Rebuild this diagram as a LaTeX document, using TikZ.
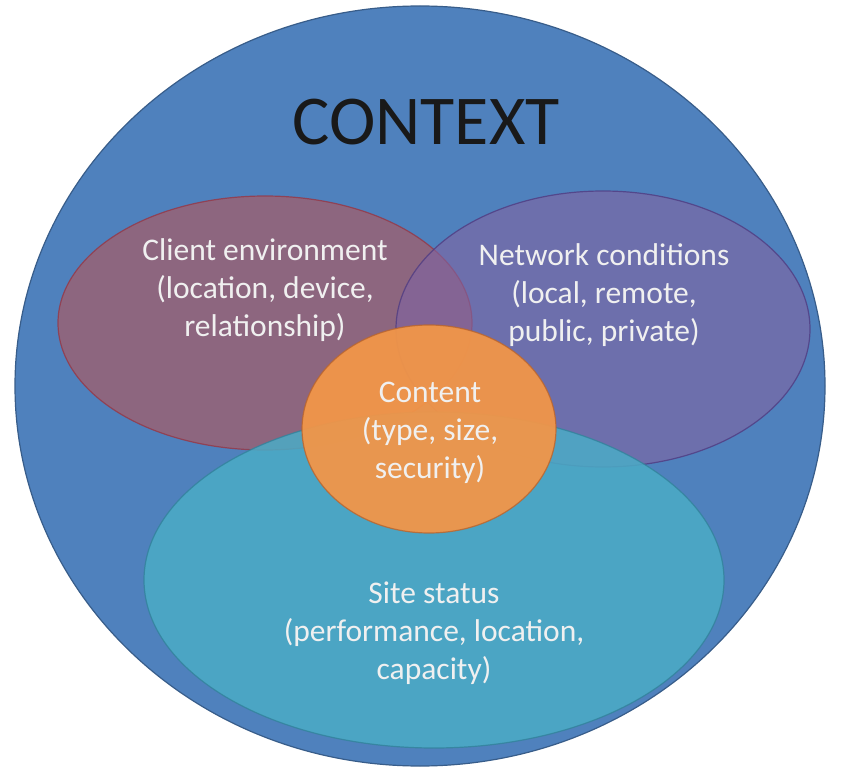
\documentclass[tikz,border=0pt]{standalone}
\usepackage{fontspec}
\setmainfont{Carlito}
\definecolor{bigblue}{RGB}{79,129,189}
\definecolor{bigborder}{RGB}{56,93,138}
\definecolor{cred}{RGB}{192,80,77}
\definecolor{credb}{RGB}{150,55,70}
\definecolor{npurple}{RGB}{128,100,162}
\definecolor{npurpleb}{RGB}{80,60,130}
\definecolor{saqua}{RGB}{75,172,198}
\definecolor{saquab}{RGB}{50,130,155}
\definecolor{corange}{RGB}{242,150,72}
\definecolor{corangeb}{RGB}{185,100,45}
\tikzset{
  lbl/.style={text=white!94!black, align=center, font=\fontsize{31.5}{38}\selectfont},
  blob/.style={line width=1.2pt}
}
\begin{document}
\begin{tikzpicture}[x=1pt,y=-1pt]
\useasboundingbox (0,0) rectangle (841,767);
\fill[white] (0,0) rectangle (841,767);
% big context circle
\draw[blob, fill=bigblue, draw=bigborder] (420,386) ellipse [x radius=405, y radius=380];
% client environment
\draw[blob, fill=cred, fill opacity=0.55, draw=credb, draw opacity=0.8] (265,323) ellipse [x radius=207, y radius=127];
% network conditions
\draw[blob, fill=npurple, fill opacity=0.62, draw=npurpleb, draw opacity=0.8] (603,329) ellipse [x radius=207, y radius=138];
% site status
\draw[blob, fill=saqua, fill opacity=0.85, draw=saquab, draw opacity=0.8] (434,580) ellipse [x radius=290, y radius=168];
% content
\draw[blob, fill=corange, fill opacity=0.94, draw=corangeb, draw opacity=0.8] (429,429) ellipse [x radius=127, y radius=104];
% texts
\node[text=black!90, font=\fontsize{70}{80}\selectfont] (title) at (426,122) {CONTEXT};
\node[lbl] (client) at (265,290) {Client environment\\(location, device,\\relationship)};
\node[lbl] (network) at (604,295) {Network conditions\\(local, remote,\\public, private)};
\node[lbl] (content) at (430,433) {Content\\(type, size,\\security)};
\node[lbl] (site) at (434,633) {Site status\\(performance, location,\\capacity)};
\end{tikzpicture}
\end{document}
